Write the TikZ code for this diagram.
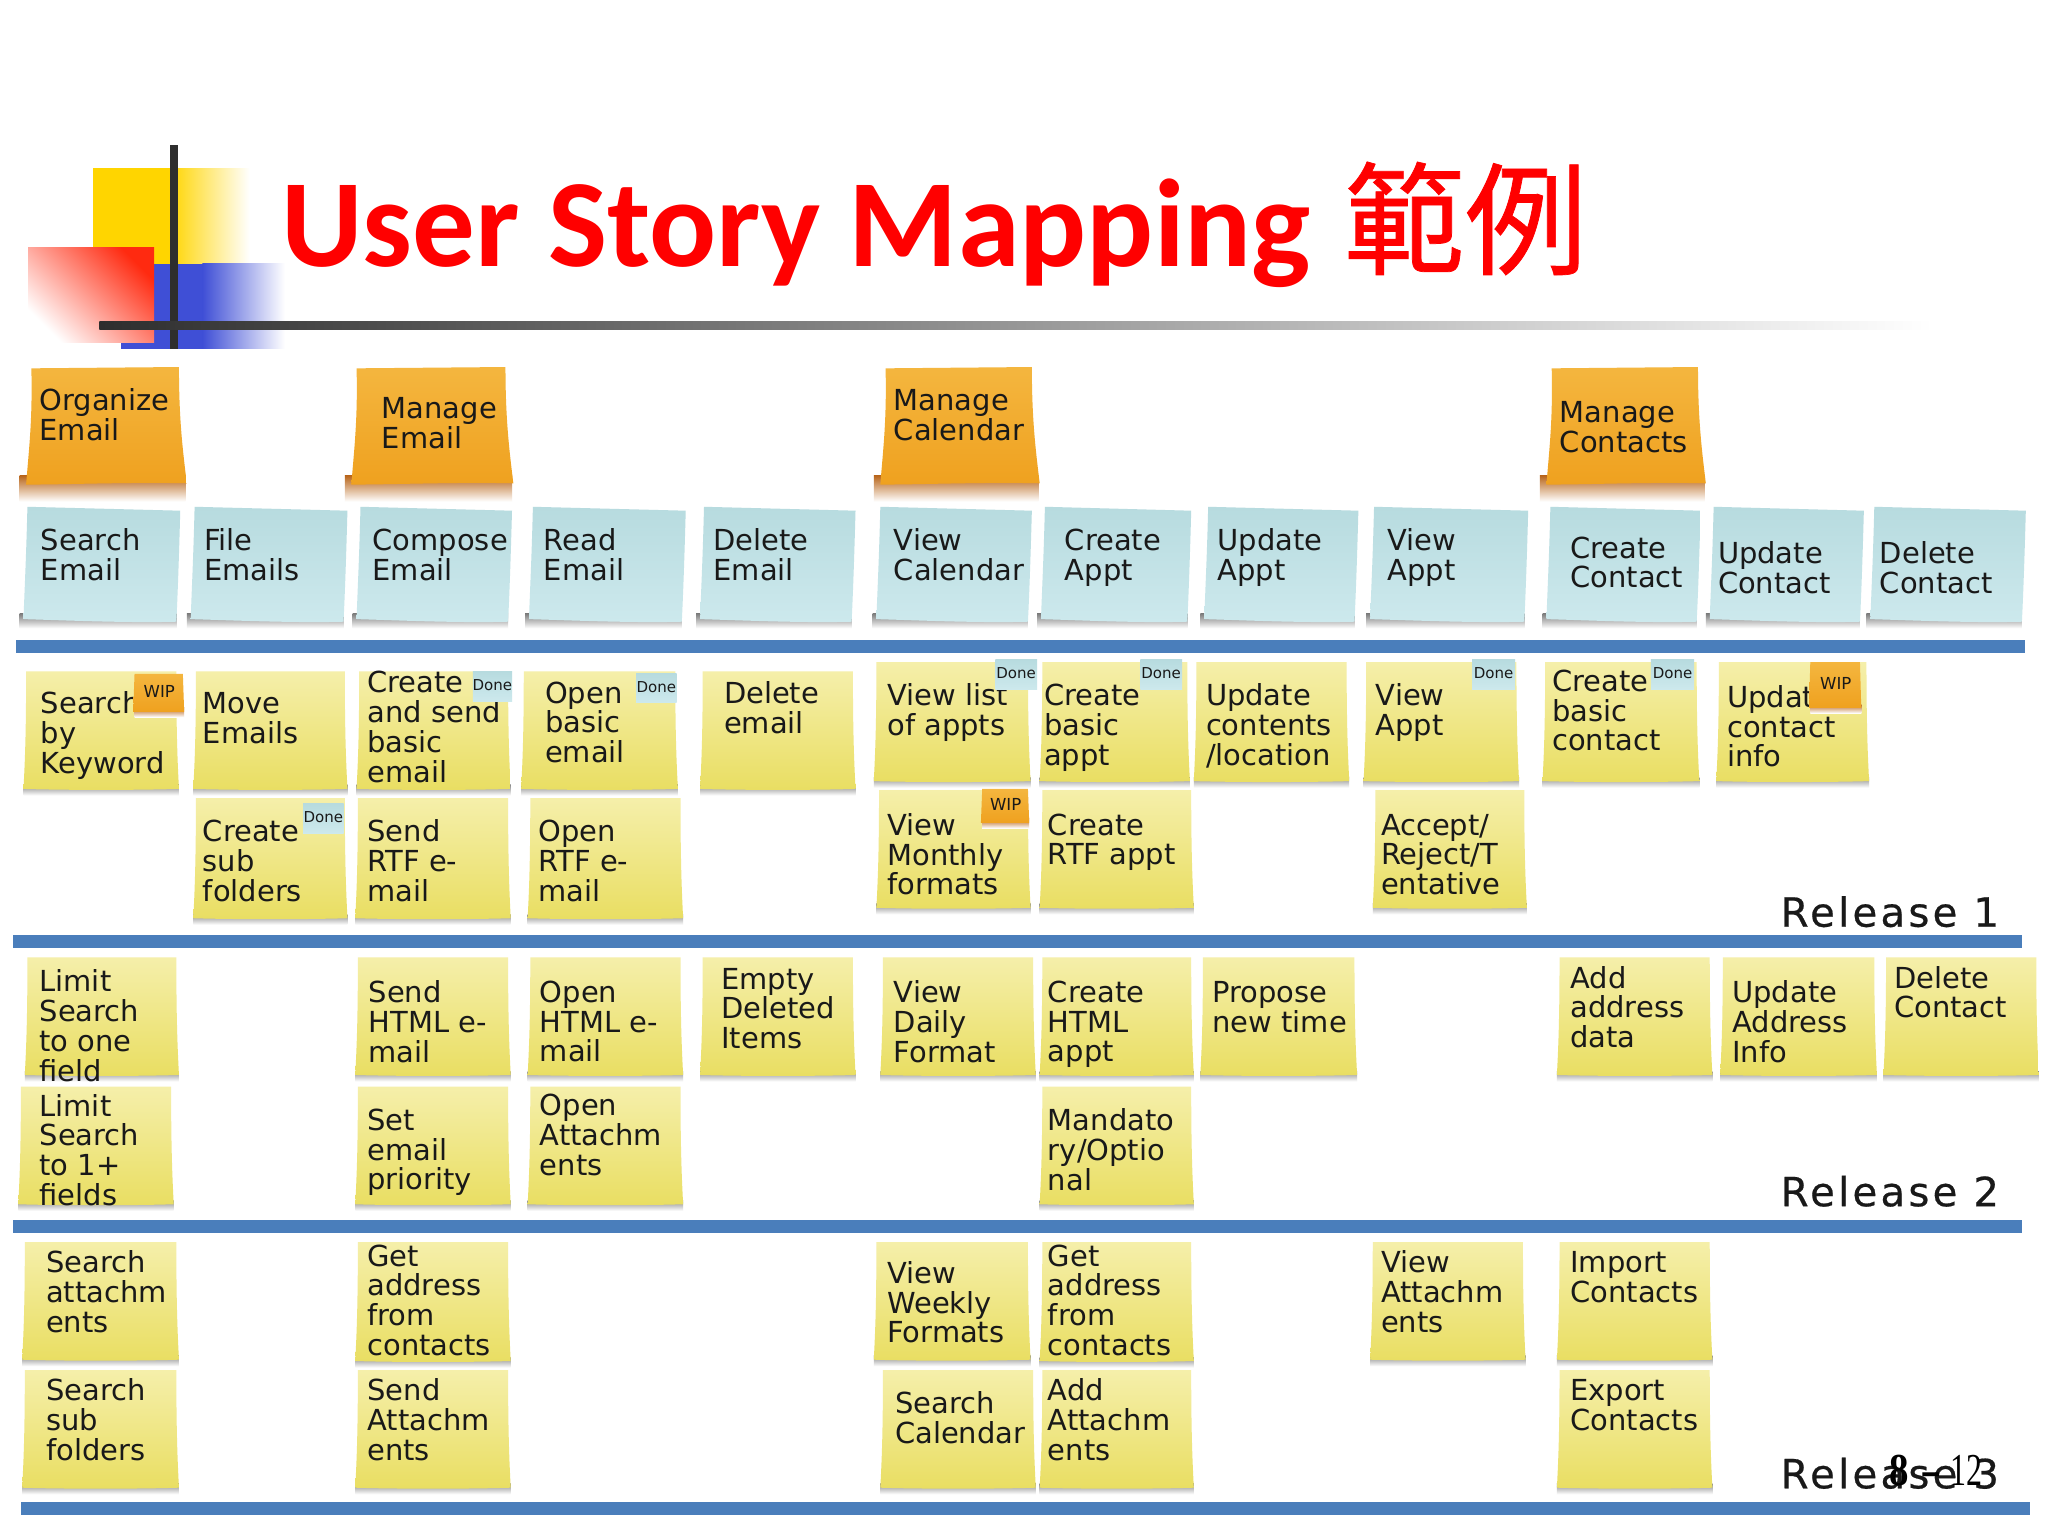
\documentclass[tikz,border=0pt]{standalone}
\usepackage{fontspec}
\newfontfamily\titlefont[Ligatures=TeX]{Carlito}
\newfontfamily\cjkfont[FakeBold=0.6]{Noto Sans CJK TC}
\newfontfamily\notefont{DejaVu Sans}
\newfontfamily\relfont[LetterSpace=8,FakeBold=0.5]{DejaVu Sans}
\newfontfamily\numfont{Liberation Serif}
\definecolor{barblue}{HTML}{4A7EBB}
\definecolor{yeltop}{HTML}{F5EFAA}
\definecolor{yelbot}{HTML}{E9DE62}
\definecolor{blutop}{HTML}{B7DBDF}
\definecolor{blubot}{HTML}{CDE9ED}
\definecolor{ortop}{HTML}{F4B63F}
\definecolor{orbot}{HTML}{EFA11F}
\definecolor{orshadow}{HTML}{B8651A}
\definecolor{decoyellow}{HTML}{FFD500}
\definecolor{decoblue}{HTML}{3F4FD6}
\definecolor{decored}{HTML}{FF2A10}
\definecolor{decopink}{HTML}{FF9A9A}
\newcount\notecnt
\tikzset{
  notetext/.style={inner sep=0pt,anchor=north west,align=left,text=black!90,
    font=\notefont\fontsize{13.3}{13.7}\selectfont},
  yelnote/.style={top color=yeltop,bottom color=yelbot},
  blunote/.style={top color=blutop,bottom color=blubot},
  ornote/.style={top color=ortop,bottom color=orbot},
  barline/.style={fill=barblue},
  reltext/.style={inner sep=0pt,anchor=west,text=black!90,font=\relfont\fontsize{18.5}{20}\selectfont},
  tagtext/.style={inner sep=0pt,text=black!90},
}
\newcommand\ntext[3]{\global\advance\notecnt by 1
  \node[notetext] (note\the\notecnt) at (#1,#2-8.7) {\rule{0pt}{10pt}#3};}
% yellow note: x1 y1 x2 y2 tx ty text
\newcommand\yn[7]{%
  \path[top color=black!45,bottom color=white] (#1-1,#4-3) rectangle (#3+1,#4+5);
  \path[yelnote] (#1+1,#2) -- (#3-1,#2) .. controls (#3-1,#2+50) and (#3,#4-20) .. (#3+1,#4)
     .. controls (#3-30,#4+1) and (#1+30,#4+1) .. (#1-1,#4) .. controls (#1,#4-20) and (#1+1,#2+50) .. cycle;
  \ntext{#5}{#6}{#7}}
% blue note
\newcommand\bn[7]{%
  \path[top color=black!50,bottom color=white] (#1-6,#4-6) rectangle (#3-3,#4+5);
  \path[blunote] (#1,#2) -- (#3,#2+3) .. controls (#3-1,#2+40) and (#3-2,#4-20) .. (#3-3,#4)
     .. controls (#3-40,#4+1) and (#1+30,#4-1) .. (#1-3,#4-2) .. controls (#1-2,#4-30) and (#1-1,#2+40) .. cycle;
  \ntext{#5}{#6}{#7}}
% orange note
\newcommand\on[7]{%
  \path[top color=orshadow,bottom color=white] (#1-9,#4-6) rectangle (#3+5,#4+14);
  \path[ornote] (#1,#2) -- (#3,#2-1) .. controls (#3,#2+40) and (#3+3,#4-25) .. (#3+6,#4)
     .. controls (#3-40,#4-1) and (#1+30,#4+1) .. (#1-4,#4+1) .. controls (#1-2,#4-25) and (#1+1,#2+40) .. cycle;
  \ntext{#5}{#6}{#7}}
% small tags: x1 y1 x2 y2 text
\newcommand\donetag[5]{\global\advance\notecnt by 1
  \path[top color=blutop,bottom color=blubot] (#1,#2) rectangle (#3,#4);
  \node[tagtext,font=\notefont\fontsize{6.9}{7}\selectfont] (note\the\notecnt) at ({(#1+#3)/2},{(#2+#4)/2-1}) {#5};}
\newcommand\wiptag[5]{\global\advance\notecnt by 1
  \path[top color=orshadow,bottom color=white] (#1,#4-3) rectangle (#3,#4+4);
  \path[ornote] (#1,#2) -- (#3-1,#2) -- (#3,#4) -- (#1-1,#4) -- cycle;
  \node[tagtext,font=\notefont\fontsize{7.6}{8}\selectfont] (note\the\notecnt) at ({(#1+#3)/2},{(#2+#4)/2-1}) {#5};}
\begin{document}
\begin{tikzpicture}[x=0.6pt,y=-0.6pt]
\useasboundingbox[fill=white] (0,0) rectangle (1568,1176);
% header decoration
\fill[decoyellow] (71,129) rectangle (131,202);
\path[left color=decoyellow,right color=white] (130,129) rectangle (191,202);
\fill[decoblue] (118,202) rectangle (156,267);
\fill[decoblue] (93,260) rectangle (118,267);
\path[left color=decoblue,right color=white] (155,202) rectangle (218,267);
\path[top color=decored,middle color=decopink,bottom color=white,shading angle=-45] (21.5,189.5) rectangle (118,262);
\fill[black!82] (130,111) rectangle (136,267);
\path[left color=black!82,right color=white] (76,246.5) rectangle (1480,252.5);
% title
\node[inner sep=0pt,anchor=base west,text=red,font=\titlefont\bfseries\fontsize{57.4}{60}\selectfont] (title) at (215,204) {User Story Mapping};
\node[inner sep=0pt,anchor=base west,text=red,font=\cjkfont\fontsize{56}{60}\selectfont] (titlecjk) at (1028,203) {範例};
% bars
\fill[barline] (12,490) rectangle (1550,500);
\fill[barline] (10,716) rectangle (1548,726);
\fill[barline] (10,934) rectangle (1548,944);
\fill[barline] (16,1150) rectangle (1554,1160);
% orange
\on{24}{282}{137}{370}{30}{306}{Organize\\Email}
\on{273}{282}{387}{370}{292}{312}{Manage\\Email}
\on{678}{282}{790}{370}{684}{306}{Manage\\Calendar}
\on{1188}{282}{1300}{370}{1194}{315}{Manage\\Contacts}
% blue
\bn{21}{388}{138}{476}{31}{413}{Search\\Email}
\bn{149}{388}{266}{476}{156}{413}{File\\Emails}
\bn{276}{388}{392}{476}{285}{413}{Compose\\Email}
\bn{408}{388}{525}{476}{416}{413}{Read\\Email}
\bn{539}{388}{655}{476}{546}{413}{Delete\\Email}
\bn{674}{388}{790}{476}{684}{413}{View\\Calendar}
\bn{800}{388}{912}{476}{815}{413}{Create\\Appt}
\bn{925}{388}{1040}{476}{932}{413}{Update\\Appt}
\bn{1052}{388}{1170}{476}{1062}{413}{View\\Appt}
\bn{1187}{388}{1302}{476}{1202}{419}{Create\\Contact}
\bn{1312}{388}{1427}{476}{1315}{423}{Update\\Contact}
\bn{1435}{388}{1551}{476}{1439}{423}{Delete\\Contact}
% release 1, first row
\yn{19}{514}{136}{604}{31}{538}{Search\\by\\Keyword}
\yn{149}{514}{265}{604}{155}{538}{Move\\Emails}
\yn{274}{514}{390}{604}{281}{522}{Create\\and send\\basic\\email}
\yn{400}{514}{518}{604}{417}{530}{Open\\basic\\email}
\yn{537}{514}{654}{604}{554}{530}{Delete\\email}
\yn{670}{507}{788}{598}{679}{532}{View list\\of appts}
\yn{797}{507}{910}{598}{799}{532}{Create\\basic\\appt}
\yn{915}{507}{1032}{598}{923}{532}{Update\\contents\\/location}
\yn{1045}{507}{1162}{598}{1053}{532}{View\\Appt}
\yn{1182}{507}{1300}{598}{1188}{521}{Create\\basic\\contact}
\yn{1315}{507}{1430}{598}{1322}{533}{Update\\contact\\info}
% release 1, second row
\yn{149}{611}{265}{703}{155}{636}{Create\\sub\\folders}
\yn{273}{611}{390}{703}{281}{636}{Send\\RTF e-\\mail}
\yn{405}{611}{522}{703}{412}{636}{Open\\RTF e-\\mail}
\yn{672}{605}{788}{695}{679}{631}{View\\Monthly\\formats}
\yn{797}{605}{913}{695}{802}{631}{Create\\RTF appt}
\yn{1052}{605}{1168}{695}{1057}{631}{Accept/\\Reject/T\\entative}
% tags
\wiptag{103}{516}{141}{545}{WIP}
\donetag{362}{514}{392}{537}{Done}
\donetag{487}{516}{518}{538}{Done}
\donetag{232}{615}{263}{638}{Done}
\donetag{762}{505}{794}{528}{Done}
\donetag{873}{505}{905}{528}{Done}
\donetag{1127}{505}{1160}{528}{Done}
\donetag{1264}{505}{1297}{528}{Done}
\wiptag{1386}{507}{1425}{542}{WIP}
\wiptag{752}{604}{788}{630}{WIP}
\node[reltext] (rel1) at (1363,698) {Release 1};
% release 2
\yn{20}{733}{136}{823}{30}{751}{Limit\\Search\\to one\\field}
\yn{273}{733}{390}{823}{282}{759}{Send\\HTML e-\\mail}
\yn{405}{733}{522}{823}{413}{759}{Open\\HTML e-\\mail}
\yn{537}{733}{654}{823}{552}{749}{Empty\\Deleted\\Items}
\yn{675}{733}{792}{823}{684}{759}{View\\Daily\\Format}
\yn{797}{733}{913}{823}{802}{759}{Create\\HTML\\appt}
\yn{920}{733}{1038}{823}{928}{759}{Propose\\new time}
\yn{1193}{733}{1310}{823}{1202}{748}{Add\\address\\data}
\yn{1318}{733}{1436}{823}{1326}{759}{Update\\Address\\Info}
\yn{1443}{733}{1560}{823}{1450}{748}{Delete\\Contact}
\yn{15}{832}{132}{922}{30}{846}{Limit\\Search\\to 1+\\fields}
\yn{273}{832}{390}{922}{281}{857}{Set\\email\\priority}
\yn{405}{832}{522}{922}{413}{846}{Open\\Attachm\\ents}
\yn{797}{832}{913}{922}{802}{857}{Mandato\\ry/Optio\\nal}
\node[reltext] (rel2) at (1363,912) {Release 2};
% release 3
\yn{18}{951}{136}{1041}{35}{966}{Search\\attachm\\ents}
\yn{273}{951}{390}{1042}{281}{961}{Get\\address\\from\\contacts}
\yn{670}{951}{788}{1041}{679}{974}{View\\Weekly\\Formats}
\yn{797}{951}{913}{1042}{802}{961}{Get\\address\\from\\contacts}
\yn{1050}{951}{1167}{1041}{1057}{966}{View\\Attachm\\ents}
\yn{1193}{951}{1310}{1041}{1202}{966}{Import\\Contacts}
\yn{18}{1049}{136}{1139}{35}{1064}{Search\\sub\\folders}
\yn{273}{1049}{390}{1139}{281}{1064}{Send\\Attachm\\ents}
\yn{675}{1049}{792}{1139}{685}{1074}{Search\\Calendar}
\yn{797}{1049}{913}{1139}{802}{1064}{Add\\Attachm\\ents}
\yn{1193}{1049}{1310}{1139}{1202}{1064}{Export\\Contacts}
\node[reltext] (rel3) at (1363,1128) {Release 3};
\node[inner sep=0pt,anchor=base west,font=\numfont\bfseries\fontsize{21}{22}\selectfont] (pgeight) at (1446,1137) {\scalebox{0.85}[1]{8}};
\node[inner sep=0pt,anchor=base west,font=\numfont\bfseries\fontsize{21}{22}\selectfont] (pgdash) at (1470,1137) {\scalebox{1.4}[1]{-}};
\node[inner sep=0pt,anchor=base west,font=\numfont\fontsize{21}{22}\selectfont] (pgnum) at (1493,1137) {\scalebox{0.7}[1]{12}};
\end{tikzpicture}
\end{document}
